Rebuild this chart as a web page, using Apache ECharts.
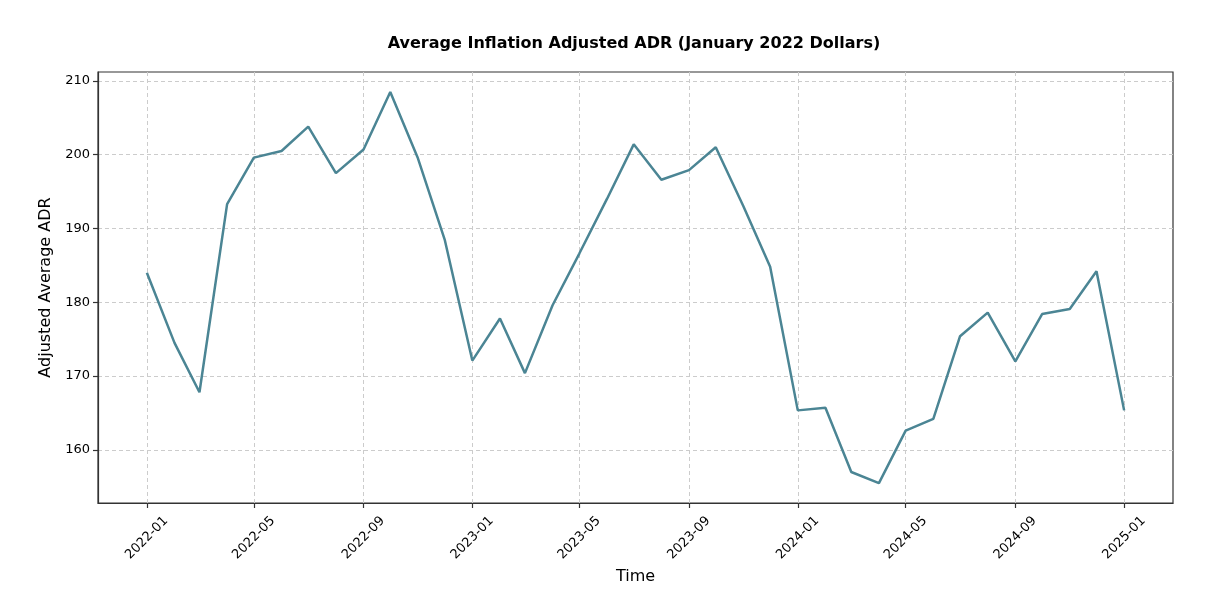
<!DOCTYPE html>
<html>
<head>
<meta charset="utf-8">
<script src="https://cdn.jsdelivr.net/npm/echarts@6/dist/echarts.min.js"></script>
<style>html,body{margin:0;padding:0;background:#fff}#c{width:1216px;height:616px}</style>
</head>
<body>
<div id="c"></div>
<script>
const months = ["2022-01","2022-02","2022-03","2022-04","2022-05","2022-06","2022-07","2022-08","2022-09","2022-10","2022-11","2022-12",
"2023-01","2023-02","2023-03","2023-04","2023-05","2023-06","2023-07","2023-08","2023-09","2023-10","2023-11","2023-12",
"2024-01","2024-02","2024-03","2024-04","2024-05","2024-06","2024-07","2024-08","2024-09","2024-10","2024-11","2024-12","2025-01"];
const adr = [184.0,174.5,167.8,193.3,199.6,200.5,203.8,197.5,200.7,208.5,199.5,188.5,
172.1,177.8,170.4,179.6,186.6,194.0,201.4,196.6,197.9,201.0,193.0,184.8,
165.35,165.7,157.0,155.5,162.6,164.2,175.4,178.6,172.0,178.4,179.1,184.2,165.35];
const xTickLabels = ["2022-01","2022-05","2022-09","2023-01","2023-05","2023-09","2024-01","2024-05","2024-09","2025-01"];
const yTickLabels = [160,170,180,190,200,210];

const t = s => Date.UTC(+s.slice(0,4), +s.slice(5,7)-1, 1);
const DAY = 86400000;
const xMin = t("2022-01") - 54.8*DAY;
const xMax = t("2025-01") + 54.8*DAY;
const pad = n => (n<10?'0':'')+n;
const fmt = v => { const d = new Date(v); return d.getUTCFullYear()+'-'+pad(d.getUTCMonth()+1); };

const chart = echarts.init(document.getElementById('c'), null, {renderer:'canvas'});
const FONT = 'DejaVu Sans';
chart.setOption({
  backgroundColor:'#fff',
  animation:false,
  title:{
    text:'Average Inflation Adjusted ADR (January 2022 Dollars)',
    left:629, top:31, textAlign:'center',
    textStyle:{fontFamily:FONT, fontSize:16, fontWeight:'bold', color:'#000'}
  },
  grid:{left:98, right:43, top:72, bottom:113, show:true, borderColor:'#333', borderWidth:1.2, backgroundColor:'transparent'},
  xAxis:{
    type:'value', min:xMin, max:xMax, scale:true,
    name:'Time', nameLocation:'middle', nameGap:65,
    nameTextStyle:{fontFamily:FONT, fontSize:16, color:'#000'},
    axisLine:{show:true, onZero:false, lineStyle:{color:'#333', width:1.2}},
    axisTick:{show:true, length:5, lineStyle:{color:'#333', width:1.2}, customValues: xTickLabels.map(t)},
    axisLabel:{rotate:45, align:'center', verticalAlign:'middle', fontFamily:FONT, fontSize:13, color:'#000', margin:35,
      customValues: xTickLabels.map(t), formatter: v => fmt(v), hideOverlap:false},
    splitLine:{show:true, lineStyle:{color:'#cccccc', type:[4,3], width:1}}
  },
  yAxis:{
    type:'value', min:152.8, max:211.2, scale:true,
    name:'Adjusted Average ADR', nameLocation:'middle', nameGap:37, nameRotate:90,
    nameTextStyle:{fontFamily:FONT, fontSize:16, color:'#000'},
    axisLine:{show:true, onZero:false, lineStyle:{color:'#333', width:1.2}},
    axisTick:{show:true, length:5, lineStyle:{color:'#333', width:1.2}, customValues: yTickLabels},
    axisLabel:{fontFamily:FONT, fontSize:13, color:'#000', margin:8, customValues: yTickLabels, formatter: v => String(v)},
    splitLine:{show:true, lineStyle:{color:'#cccccc', type:[4,3], width:1}}
  },
  series:[{
    type:'line',
    data: months.map((m,i)=>[t(m), adr[i]]),
    showSymbol:false, symbol:'none',
    lineStyle:{color:'#4b8594', width:2.5},
    itemStyle:{color:'#4b8594'}
  }]
});
</script>
</body>
</html>
